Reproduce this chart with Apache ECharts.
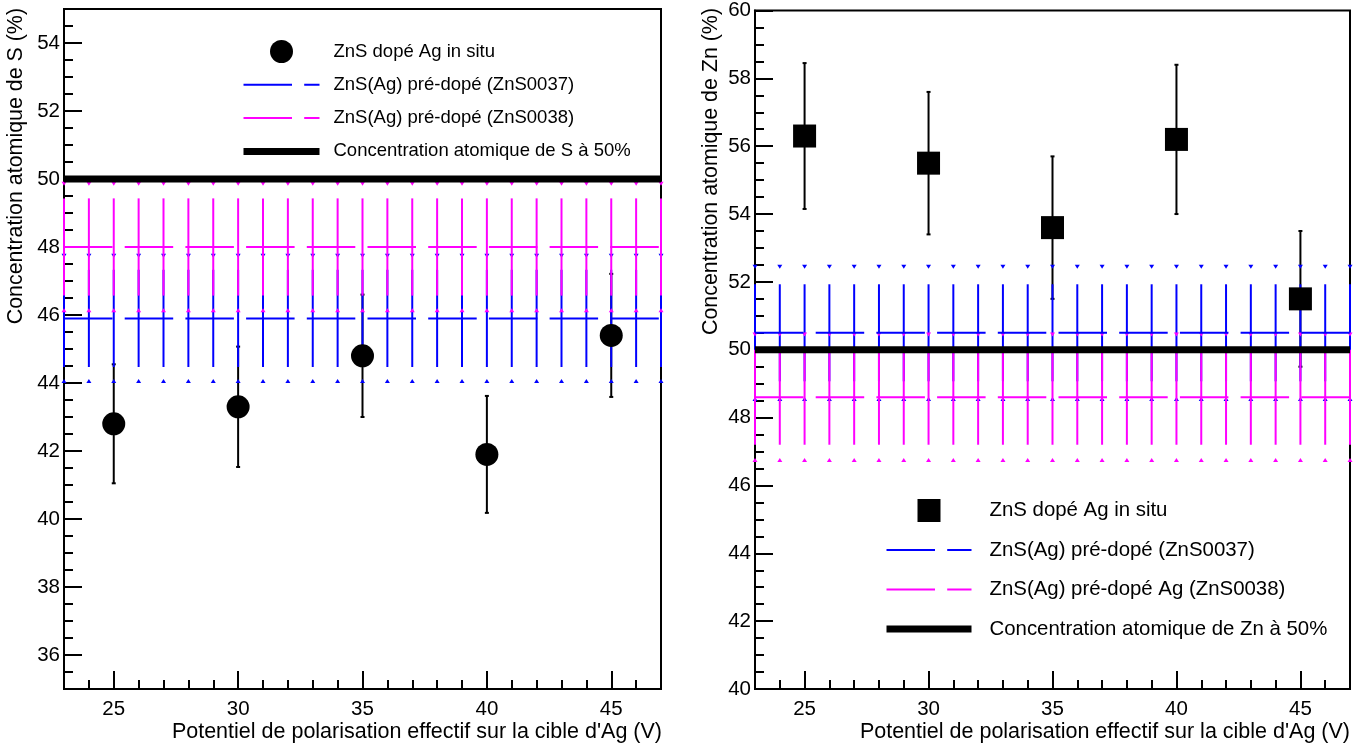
<!DOCTYPE html>
<html><head><meta charset="utf-8">
<script src="https://cdn.jsdelivr.net/npm/echarts@6/dist/echarts.min.js"></script>
<style>html,body{margin:0;padding:0;background:#fff}#c{width:1366px;height:749px}</style>
</head><body><div id="c"></div>
<script>
// ---------- shared ----------
const bandX = [23,24,25,26,27,28,29,30,31,32,33,34,35,36,37,38,39,40,41,42,43,44,45,46,47];
const voltages = [25, 30, 35, 40, 45];
const xMajorTicks = [25, 30, 35, 40, 45];
const xMinorTicks = [24,25,26,27,28,29,30,31,32,33,34,35,36,37,38,39,40,41,42,43,44,45,46];

// ---------- left panel : S ----------
const sInSitu    = [42.8, 43.3, 44.8, 41.9, 45.4];
const sInSituErr = [1.75, 1.77, 1.80, 1.72, 1.81];
const s0037      = [45.9,45.9,45.9,45.9,45.9,45.9,45.9,45.9,45.9,45.9,45.9,45.9,45.9,45.9,45.9,45.9,45.9,45.9,45.9,45.9,45.9,45.9,45.9,45.9,45.9];
const s0037Err   = [1.43,1.43,1.43,1.43,1.43,1.43,1.43,1.43,1.43,1.43,1.43,1.43,1.43,1.43,1.43,1.43,1.43,1.43,1.43,1.43,1.43,1.43,1.43,1.43,1.43];
const s0037Sys   = [1.84,1.84,1.84,1.84,1.84,1.84,1.84,1.84,1.84,1.84,1.84,1.84,1.84,1.84,1.84,1.84,1.84,1.84,1.84,1.84,1.84,1.84,1.84,1.84,1.84];
const s0038      = [48.0,48.0,48.0,48.0,48.0,48.0,48.0,48.0,48.0,48.0,48.0,48.0,48.0,48.0,48.0,48.0,48.0,48.0,48.0,48.0,48.0,48.0,48.0,48.0,48.0];
const s0038Err   = [1.43,1.43,1.43,1.43,1.43,1.43,1.43,1.43,1.43,1.43,1.43,1.43,1.43,1.43,1.43,1.43,1.43,1.43,1.43,1.43,1.43,1.43,1.43,1.43,1.43];
const s0038Sys   = [1.86,1.86,1.86,1.86,1.86,1.86,1.86,1.86,1.86,1.86,1.86,1.86,1.86,1.86,1.86,1.86,1.86,1.86,1.86,1.86,1.86,1.86,1.86,1.86,1.86];
const sRefX = [23, 47];
const sRef  = [50, 50];
const sYMajor = [36, 38, 40, 42, 44, 46, 48, 50, 52, 54];

// ---------- right panel : Zn ----------
const znInSitu    = [56.3, 55.5, 53.6, 56.2, 51.5];
const znInSituErr = [2.15, 2.10, 2.10, 2.20, 2.00];
const zn0037      = [50.5,50.5,50.5,50.5,50.5,50.5,50.5,50.5,50.5,50.5,50.5,50.5,50.5,50.5,50.5,50.5,50.5,50.5,50.5,50.5,50.5,50.5,50.5,50.5,50.5];
const zn0037Err   = [1.43,1.43,1.43,1.43,1.43,1.43,1.43,1.43,1.43,1.43,1.43,1.43,1.43,1.43,1.43,1.43,1.43,1.43,1.43,1.43,1.43,1.43,1.43,1.43,1.43];
const zn0037Sys   = [1.95,1.95,1.95,1.95,1.95,1.95,1.95,1.95,1.95,1.95,1.95,1.95,1.95,1.95,1.95,1.95,1.95,1.95,1.95,1.95,1.95,1.95,1.95,1.95,1.95];
const zn0038      = [48.6,48.6,48.6,48.6,48.6,48.6,48.6,48.6,48.6,48.6,48.6,48.6,48.6,48.6,48.6,48.6,48.6,48.6,48.6,48.6,48.6,48.6,48.6,48.6,48.6];
const zn0038Err   = [1.40,1.40,1.40,1.40,1.40,1.40,1.40,1.40,1.40,1.40,1.40,1.40,1.40,1.40,1.40,1.40,1.40,1.40,1.40,1.40,1.40,1.40,1.40,1.40,1.40];
const zn0038Sys   = [1.85,1.85,1.85,1.85,1.85,1.85,1.85,1.85,1.85,1.85,1.85,1.85,1.85,1.85,1.85,1.85,1.85,1.85,1.85,1.85,1.85,1.85,1.85,1.85,1.85];
const znRefX = [23, 47];
const znRef  = [50, 50];
const znYMajor = [40, 42, 44, 46, 48, 50, 52, 54, 56, 58, 60];

// minor tick positions (every 0.5 on y)
function halfSteps(a, b) { const r = []; for (let v = a; v <= b + 1e-9; v += 0.5) r.push(v); return r; }
const sYMinor = halfSteps(35, 55);
const znYMinor = halfSteps(40, 60);

const FONT = '"Liberation Sans", Arial, Helvetica, sans-serif';
const BLUE = '#0000ff', MAG = '#ff00ff';
const DASH = [48.5, 12.2];
const SQUARE = 'path://M0,0L10,0L10,10L0,10Z';

function zip3(xs, ys, es, ms) { return xs.map((x, i) => [x, ys[i], es[i], ms ? ms[i] : 0]); }
function zip2(xs, ys) { return xs.map((x, i) => [x, ys[i]]); }

function errRender(color, width, cap) {
  return function (params, api) {
    const x = api.value(0), y = api.value(1), e = api.value(2), m = api.value(3);
    const t = api.coord([x, y + e]), b = api.coord([x, y - e]);
    const ch = [{ type: 'line', shape: { x1: t[0], y1: t[1], x2: b[0], y2: b[1] }, style: { stroke: color, lineWidth: width } }];
    if (cap) {
      ch.push({ type: 'line', shape: { x1: t[0] - cap, y1: t[1], x2: t[0] + cap, y2: t[1] }, style: { stroke: color, lineWidth: width } });
      ch.push({ type: 'line', shape: { x1: b[0] - cap, y1: b[1], x2: b[0] + cap, y2: b[1] }, style: { stroke: color, lineWidth: width } });
    }
    if (m) {
      const mt = api.coord([x, y + m]), mb = api.coord([x, y - m]);
      ch.push({ type: 'polygon', shape: { points: [[mt[0] - 2.5, mt[1] - 2], [mt[0] + 2.5, mt[1] - 2], [mt[0], mt[1] + 2]] }, style: { fill: color } });
      ch.push({ type: 'polygon', shape: { points: [[mb[0] - 2.5, mb[1] + 2], [mb[0] + 2.5, mb[1] + 2], [mb[0], mb[1] - 2]] }, style: { fill: color } });
    }
    return { type: 'group', children: ch };
  };
}

function xAxes(grid) {
  return [
    { gridIndex: grid, type: 'value', position: 'bottom', min: 23, max: 47,
      axisLine: { show: true, onZero: false, lineStyle: { color: '#000', width: 2 } },
      axisTick: { show: true, inside: true, length: 18, customValues: xMajorTicks, lineStyle: { color: '#000', width: 2 } },
      axisLabel: { show: true, customValues: xMajorTicks, fontSize: 20.5, fontFamily: FONT, color: '#000', margin: 10 },
      splitLine: { show: false } },
    { gridIndex: grid, type: 'value', position: 'bottom', min: 23, max: 47,
      axisLine: { show: false, onZero: false },
      axisTick: { show: true, inside: true, length: 9, customValues: xMinorTicks, lineStyle: { color: '#000', width: 2 } },
      axisLabel: { show: false }, splitLine: { show: false } }
  ];
}
function yAxes(grid, min, max, major, minor) {
  return [
    { gridIndex: grid, type: 'value', position: 'left', min: min, max: max,
      axisLine: { show: true, onZero: false, lineStyle: { color: '#000', width: 2 } },
      axisTick: { show: true, inside: true, length: 18, customValues: major, lineStyle: { color: '#000', width: 2 } },
      axisLabel: { show: true, customValues: major, fontSize: 20.5, fontFamily: FONT, color: '#000', margin: 4 },
      splitLine: { show: false } },
    { gridIndex: grid, type: 'value', position: 'left', min: min, max: max,
      axisLine: { show: false, onZero: false },
      axisTick: { show: true, inside: true, length: 9, customValues: minor, lineStyle: { color: '#000', width: 2 } },
      axisLabel: { show: false }, splitLine: { show: false } }
  ];
}

function panelSeries(xi, yi, pre, names, pts, ptsErr, symbol, b37, b37e, b37s, b38, b38e, b38s, refX, ref) {
  return [
    { type: 'custom', name: pre + 'err-data', xAxisIndex: xi, yAxisIndex: yi, renderItem: errRender('#000', 2, 2),
      data: zip3(voltages, pts, ptsErr), encode: { x: 0, y: 1 }, silent: true },
    { type: 'scatter', name: names[0], xAxisIndex: xi, yAxisIndex: yi, symbol: symbol, symbolSize: 23,
      itemStyle: { color: '#000', opacity: 1 }, data: zip2(voltages, pts), silent: true },
    { type: 'line', name: names[1], xAxisIndex: xi, yAxisIndex: yi, symbol: 'none', showSymbol: false,
      lineStyle: { color: BLUE, width: 2, type: DASH }, itemStyle: { color: BLUE, opacity: 0 }, data: zip2(bandX, b37), silent: true },
    { type: 'custom', name: pre + 'err-37', xAxisIndex: xi, yAxisIndex: yi, renderItem: errRender(BLUE, 2, 0),
      data: zip3(bandX, b37, b37e, b37s), encode: { x: 0, y: 1 }, silent: true },
    { type: 'line', name: names[2], xAxisIndex: xi, yAxisIndex: yi, symbol: 'none', showSymbol: false,
      lineStyle: { color: MAG, width: 2, type: DASH }, itemStyle: { color: MAG, opacity: 0 }, data: zip2(bandX, b38), silent: true },
    { type: 'custom', name: pre + 'err-38', xAxisIndex: xi, yAxisIndex: yi, renderItem: errRender(MAG, 2, 0),
      data: zip3(bandX, b38, b38e, b38s), encode: { x: 0, y: 1 }, silent: true },
    { type: 'line', name: names[3], xAxisIndex: xi, yAxisIndex: yi, symbol: 'none', showSymbol: false,
      lineStyle: { color: '#000', width: 7 }, itemStyle: { color: '#000', opacity: 0 }, data: zip2(refX, ref), silent: true }
  ];
}

const leftNames = ['ZnS dopé Ag in situ', 'ZnS(Ag) pré-dopé (ZnS0037)', 'ZnS(Ag) pré-dopé (ZnS0038)', 'Concentration atomique de S à 50%'];
const rightLabels = ['ZnS dopé Ag in situ', 'ZnS(Ag) pré-dopé (ZnS0037)', 'ZnS(Ag) pré-dopé Ag (ZnS0038)', 'Concentration atomique de Zn à 50%'];
const rightNames = rightLabels.map(n => 'R|' + n);

function legendData(names, markerIcon) {
  return [
    markerIcon ? { name: names[0], icon: markerIcon } : { name: names[0] },
    { name: names[1], itemStyle: { opacity: 0 }, lineStyle: { width: 2 } },
    { name: names[2], itemStyle: { opacity: 0 }, lineStyle: { width: 2 } },
    { name: names[3], itemStyle: { opacity: 0 }, lineStyle: { width: 7 } }
  ];
}

const option = {
  animation: false,
  backgroundColor: '#fff',
  grid: [
    { left: 64, top: 9, width: 597, height: 680, show: true, borderColor: '#000', borderWidth: 2, backgroundColor: 'transparent' },
    { left: 755, top: 10, width: 595, height: 679, show: true, borderColor: '#000', borderWidth: 2, backgroundColor: 'transparent' }
  ],
  xAxis: [].concat(xAxes(0), xAxes(1)),
  yAxis: [].concat(yAxes(0, 35, 55, sYMajor, sYMinor), yAxes(1, 40, 60, znYMajor, znYMinor)),
  legend: [
    { data: legendData(leftNames, null), orient: 'vertical', left: 235, top: 35, itemWidth: 76, itemHeight: 23, itemGap: 10.3,
      selectedMode: false, textStyle: { fontSize: 18.5, lineHeight: 23, fontFamily: FONT, color: '#000', padding: [0, 0, 0, 9] } },
    { data: legendData(rightNames, SQUARE), orient: 'vertical', left: 878, top: 494, itemWidth: 85, itemHeight: 23, itemGap: 16.5,
      selectedMode: false, formatter: n => n.replace('R|', ''),
      textStyle: { fontSize: 20.4, lineHeight: 23, fontFamily: FONT, color: '#000', padding: [0, 0, 0, 13] } }
  ],
  graphic: [
    { type: 'text', x: 16, y: 8, rotation: Math.PI / 2, silent: true,
      style: { text: 'Concentration atomique de S (%)', fontSize: 21.4, fontFamily: FONT, fill: '#000', align: 'right', verticalAlign: 'middle' } },
    { type: 'text', x: 662, y: 732, silent: true,
      style: { text: "Potentiel de polarisation effectif sur la cible d'Ag (V)", fontSize: 21.5, fontFamily: FONT, fill: '#000', align: 'right', verticalAlign: 'middle' } },
    { type: 'text', x: 711, y: 8, rotation: Math.PI / 2, silent: true,
      style: { text: 'Concentration atomique de Zn (%)', fontSize: 21.4, fontFamily: FONT, fill: '#000', align: 'right', verticalAlign: 'middle' } },
    { type: 'text', x: 1350, y: 732, silent: true,
      style: { text: "Potentiel de polarisation effectif sur la cible d'Ag (V)", fontSize: 21.5, fontFamily: FONT, fill: '#000', align: 'right', verticalAlign: 'middle' } }
  ],
  series: [].concat(
    panelSeries(0, 0, 'L|', leftNames, sInSitu, sInSituErr, 'circle', s0037, s0037Err, s0037Sys, s0038, s0038Err, s0038Sys, sRefX, sRef),
    panelSeries(2, 2, 'R|', rightNames, znInSitu, znInSituErr, 'rect', zn0037, zn0037Err, zn0037Sys, zn0038, zn0038Err, zn0038Sys, znRefX, znRef)
  )
};

const chart = echarts.init(document.getElementById('c'), null, { renderer: 'canvas' });
chart.setOption(option);
</script>
</body></html>
